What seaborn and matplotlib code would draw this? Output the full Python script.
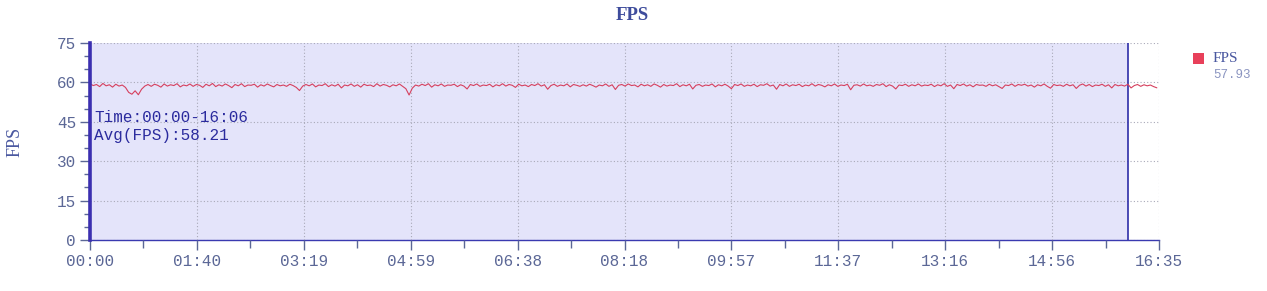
import numpy as np
import pandas as pd
import matplotlib
matplotlib.use("Agg")
import matplotlib.pyplot as plt
from matplotlib.patches import Rectangle
from matplotlib.ticker import MultipleLocator, FixedLocator
import seaborn as sns

# ---- data ----
seconds = list(range(0, 996, 3))
fps = [
    59.5, 58.8, 59.2, 58.4, 59.6, 58.7, 59.1, 58.2, 59.3, 58.6, 59.0, 58.1, 56.2, 55.5, 56.8, 55.3, 57.4, 58.6, 59.2, 58.5,
    59.3, 58.9, 58.2, 59.4, 58.6, 59.1, 58.8, 59.5, 58.3, 59.0, 58.7, 59.4, 58.5, 59.2, 58.9, 58.1, 59.3, 58.7, 59.6, 58.4,
    59.1, 58.6, 59.4, 58.8, 58.0, 59.2, 58.7, 59.5, 58.4, 59.0, 58.9, 59.3, 58.2, 59.1, 58.6, 59.4, 58.8, 58.3, 59.2, 58.7,
    59.0, 58.5, 59.3, 58.8, 58.1, 56.9, 58.6, 59.2, 58.7, 59.4, 58.3, 59.0, 58.8, 59.5, 58.4, 59.1, 58.6, 59.3, 57.9, 59.0,
    58.7, 59.4, 58.5, 59.1, 58.2, 59.3, 58.8, 59.0, 58.4, 59.5, 58.6, 59.2, 58.9, 58.3, 59.1, 58.7, 59.4, 58.5, 57.6, 55.2,
    57.8, 59.0, 58.6, 59.3, 58.8, 59.5, 58.2, 59.1, 58.7, 59.4, 58.5, 59.0, 58.9, 59.3, 58.4, 59.1, 58.6, 57.5, 59.2, 58.8,
    59.4, 58.5, 59.0, 58.8, 59.3, 58.3, 59.1, 58.7, 59.5, 58.6, 59.2, 58.9, 58.1, 59.3, 58.7, 59.0, 58.4, 59.2, 58.8, 59.5,
    58.6, 59.1, 57.4, 58.8, 59.3, 58.5, 59.0, 58.7, 59.4, 58.3, 59.2, 58.9, 58.5, 59.1, 58.6, 59.3, 58.8, 58.2, 59.0, 58.7,
    59.4, 58.5, 59.1, 57.3, 58.9, 59.2, 58.6, 59.4, 58.8, 59.0, 58.3, 59.3, 58.7, 59.1, 58.5, 59.4, 58.9, 58.2, 59.2, 58.6,
    59.0, 58.8, 59.5, 58.4, 59.1, 58.7, 59.3, 57.5, 58.9, 59.2, 58.5, 59.0, 58.8, 59.4, 58.3, 59.1, 58.7, 59.3, 58.6, 57.6,
    59.2, 58.8, 59.4, 58.5, 59.0, 58.7, 59.3, 58.4, 59.1, 58.9, 59.5, 58.6, 59.0, 57.4, 59.2, 58.7, 59.4, 58.5, 59.1, 58.8,
    59.3, 58.4, 59.0, 58.7, 59.5, 58.6, 59.2, 58.9, 58.3, 59.1, 58.7, 59.4, 58.5, 59.0, 58.8, 59.3, 57.2, 58.9, 59.1, 58.6,
    59.4, 58.7, 59.0, 58.5, 59.2, 58.9, 59.5, 58.4, 59.1, 58.6, 57.5, 59.0, 58.8, 59.3, 58.5, 59.1, 58.7, 59.4, 58.6, 59.0,
    58.8, 59.3, 58.4, 59.1, 58.7, 59.5, 58.5, 59.0, 57.6, 59.2, 58.8, 59.4, 58.6, 59.1, 58.3, 59.2, 58.9, 59.0, 58.5, 59.3,
    58.7, 59.1, 58.4, 57.7, 59.0, 58.8, 59.4, 58.5, 59.2, 58.9, 59.3, 58.6, 59.0, 58.2, 59.1, 58.7, 59.4, 58.5, 57.8, 59.2,
    58.8, 59.0, 58.5, 59.3, 58.7, 59.1, 57.7, 58.9, 59.4, 58.6, 59.2, 58.4, 59.0, 58.8, 59.3, 58.5, 59.1, 57.9, 59.2, 58.7,
    59.0, 58.6, 59.3, 57.9, 58.8, 59.2, 58.5, 59.1, 58.7, 59.0, 58.4, 57.93,
]
x_tick_labels = ["00:00", "01:40", "03:19", "04:59", "06:38", "08:18",
                 "09:57", "11:37", "13:16", "14:56", "16:35"]
y_ticks = [0, 15, 30, 45, 60, 75]
x_max = 995
sel_end = 966
avg_fps = 58.21
last_fps = 57.93

df = pd.DataFrame({"t": seconds, "fps": fps})

sns.set_theme(style="white")
plt.rcParams["font.family"] = ["Liberation Mono", "DejaVu Sans Mono"]

fig = plt.figure(figsize=(12.67, 2.91), dpi=100)
ax = fig.add_axes([90 / 1267, 1 - 240 / 291, (1159 - 90) / 1267, (240 - 43) / 291])

tick_col = "#5b6796"
ax.axvspan(0, sel_end, color="#e4e4fa", zorder=0, lw=0)
ax.axvline(sel_end, color="#2e2ea8", lw=1.2, zorder=3)

sns.lineplot(data=df, x="t", y="fps", ax=ax, color="#d6405e", lw=0.8, zorder=4)

ax.set_xlim(0, x_max)
ax.set_ylim(0, 75)
xt = np.linspace(0, x_max, len(x_tick_labels))
ax.xaxis.set_major_locator(FixedLocator(xt))
ax.xaxis.set_minor_locator(FixedLocator((xt[:-1] + xt[1:]) / 2))
ax.set_xticklabels(x_tick_labels)
ax.set_yticks(y_ticks)
ax.yaxis.set_minor_locator(MultipleLocator(5))

ax.grid(True, which="major", color="#a9a9b8", lw=0.8, linestyle=(0, (1, 2)))
ax.set_axisbelow(False)
for s in ["top", "right"]:
    ax.spines[s].set_visible(False)
ax.spines["left"].set_color("#3b2fb0")
ax.spines["left"].set_linewidth(2.6)
ax.spines["left"].set_zorder(6)
ax.spines["bottom"].set_color("#3a3ab0")
ax.spines["bottom"].set_linewidth(1.0)
ax.spines["bottom"].set_linestyle((0, (2, 1)))

ax.tick_params(axis="both", which="major", direction="out", length=7, width=1,
               color=tick_col, labelcolor=tick_col, labelsize=11.5, pad=3,
               bottom=True, left=True)
ax.tick_params(axis="both", which="minor", direction="out", length=4, width=1,
               color=tick_col, bottom=True, left=True)
ax.tick_params(axis="x", which="minor", length=6)
ax.set_xlabel("")
ax.set_ylabel("")

ax.text(4, 46.8, "Time:00:00-16:06", color="#2b2b9e", fontsize=11.5, va="center", ha="left",
        zorder=7)
ax.text(4, 39.6, f"Avg(FPS):{avg_fps:.2f}", color="#2b2b9e", fontsize=11.5, va="center", ha="left",
        zorder=7)

fig.text(632 / 1267, 1 - 16 / 291, "FPS", family="Liberation Serif", fontweight="bold",
         fontsize=13.5, color="#3e4c9c", ha="center", va="center")
fig.text(15 / 1267, 1 - 142 / 291, "FPS", family="Liberation Serif", fontsize=13,
         color="#4a58a0", ha="center", va="center", rotation=90)

fig.patches.append(Rectangle((1193 / 1267, 1 - 64 / 291), 11 / 1267, 11 / 291,
                             transform=fig.transFigure, color="#e8405a", lw=0))
fig.text(1213 / 1267, 1 - 58 / 291, "FPS", family="Liberation Serif", fontsize=11,
         color="#4a58a0", ha="left", va="center")
fig.text(1213 / 1267, 1 - 75 / 291, f"{last_fps:.2f}", fontsize=9,
         color="#8a94c0", ha="left", va="center")

fig.savefig("out.png", dpi=100, facecolor="white")
